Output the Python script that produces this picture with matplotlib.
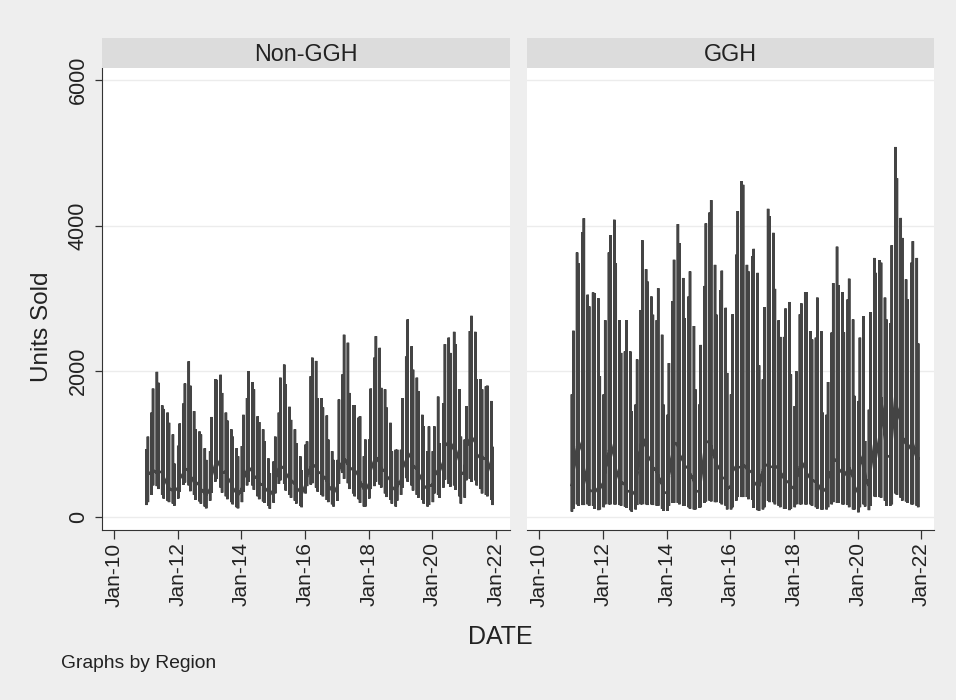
import matplotlib
matplotlib.use('Agg')
import matplotlib.pyplot as plt
import matplotlib.dates as mdates
from matplotlib.transforms import ScaledTranslation
import numpy as np
import pandas as pd

plt.rcParams['font.family'] = ['Liberation Sans', 'DejaVu Sans']

# Monthly values Jan-2011 .. Dec-2021
months = pd.date_range('2011-01-01', '2021-12-01', freq='MS')

nongh_high = [930, 1100, 1430, 1760, 1990, 1840, 1530, 1480, 1430, 1290, 1130, 730,
              975, 1280, 1555, 1830, 2135, 1800, 1450, 1200, 1170, 1130, 940, 780,
              900, 1370, 1890, 1880, 1950, 1700, 1430, 1320, 1200, 1100, 940, 830,
              970, 1400, 1630, 2000, 1850, 1750, 1380, 1300, 1200, 1035, 800, 600,
              760, 1100, 1430, 1910, 2090, 1820, 1510, 1330, 1200, 1010, 830, 640,
              990, 1035, 1930, 2185, 2140, 1630, 1630, 1500, 1390, 1060, 900, 780,
              780, 1610, 1955, 2500, 2390, 1700, 1530, 1530, 1360, 1380, 830, 1060,
              1060, 1760, 2185, 2480, 2320, 1770, 1750, 1500, 1290, 900, 920, 920,
              920, 1630, 2200, 2710, 2340, 2020, 1910, 1725, 1400, 1240, 900, 1240,
              900, 1240, 1650, 1010, 1560, 2370, 2460, 2250, 2540, 2370, 1750, 1100,
              1060, 1520, 2550, 2760, 2540, 1890, 1890, 1750, 1790, 1800, 1590, 960]
nongh_low = [160, 200, 300, 430, 420, 380, 300, 250, 220, 200, 180, 150,
             250, 340, 440, 470, 430, 350, 300, 230, 210, 180, 140, 115,
             220, 330, 480, 520, 400, 330, 280, 240, 200, 170, 130, 115,
             200, 340, 430, 480, 430, 370, 280, 240, 210, 190, 150, 110,
             190, 320, 450, 500, 450, 360, 300, 260, 220, 180, 150, 130,
             320, 420, 440, 460, 400, 345, 300, 280, 230, 200, 170, 140,
             220, 450, 600, 520, 460, 380, 320, 280, 240, 190, 140, 140,
             250, 380, 420, 480, 440, 400, 320, 270, 230, 180, 140, 220,
             300, 400, 530, 480, 430, 360, 300, 260, 230, 180, 140, 160,
             200, 320, 300, 260, 400, 510, 450, 410, 430, 370, 280, 180,
             260, 500, 520, 480, 500, 430, 380, 320, 300, 280, 230, 160]
nongh_mid = [560, 580, 620, 640, 600, 620, 610, 540, 430, 390, 360, 350,
             400, 520, 600, 660, 640, 560, 480, 480, 430, 380, 320, 300,
             380, 560, 720, 780, 680, 600, 620, 540, 460, 400, 320, 300,
             380, 520, 640, 680, 620, 560, 520, 460, 430, 400, 340, 300,
             370, 520, 660, 700, 660, 600, 520, 500, 450, 400, 340, 310,
             440, 560, 680, 720, 680, 620, 590, 560, 500, 430, 360, 320,
             420, 640, 760, 800, 720, 680, 640, 640, 560, 480, 380, 360,
             460, 640, 780, 820, 740, 660, 620, 560, 500, 410, 360, 420,
             500, 660, 780, 880, 800, 700, 660, 600, 500, 430, 380, 420,
             440, 560, 640, 620, 760, 980, 1020, 900, 1010, 930, 760, 580,
             620, 960, 1060, 1100, 1020, 860, 800, 810, 790, 780, 620, 480]

ggh_high = [1680, 2555, 3630, 3480, 3910, 4100, 3050, 2890, 3080, 3070, 3000, 1930,
            1680, 2700, 3630, 3870, 4080, 3480, 2700, 2250, 2270, 2700, 2270, 1450,
            1540, 2160, 2840, 3800, 3400, 3230, 3025, 2775, 2700, 3140, 2500, 1540,
            1400, 2110, 2960, 3530, 4020, 3760, 3280, 2730, 3025, 3370, 2620, 1750,
            1540, 2360, 3170, 4030, 4180, 4350, 3460, 2775, 3110, 3380, 2870, 1975,
            1680, 2780, 3600, 4200, 4610, 4560, 3460, 3370, 3580, 3680, 3350, 2080,
            1885, 2880, 4230, 4130, 3900, 3130, 2700, 2470, 2470, 2860, 2950, 1955,
            1520, 2000, 2780, 2930, 3085, 3085, 2550, 2435, 2460, 3010, 2550, 1430,
            1400, 1850, 2530, 3210, 3710, 3180, 3085, 2535, 2985, 3270, 2710, 1660,
            1590, 2460, 2755, 1040, 1470, 2810, 3555, 3350, 3525, 3490, 3010, 2710,
            2660, 3730, 5080, 4650, 4105, 3830, 3260, 2985, 3490, 3785, 3555, 2380]
ggh_low = [70, 110, 170, 150, 160, 160, 170, 150, 150, 110, 90, 100,
           130, 170, 170, 170, 170, 170, 160, 150, 140, 120, 90, 70,
           100, 160, 170, 170, 170, 160, 170, 160, 150, 150, 110, 80,
           80, 150, 190, 190, 190, 170, 150, 150, 130, 110, 100, 100,
           120, 130, 190, 210, 220, 210, 200, 200, 190, 170, 150, 100,
           100, 130, 220, 270, 270, 270, 270, 240, 230, 120, 90, 80,
           100, 130, 220, 200, 200, 170, 150, 130, 110, 110, 90, 110,
           130, 170, 170, 170, 170, 170, 170, 150, 130, 110, 100, 100,
           100, 130, 170, 200, 190, 190, 170, 170, 160, 130, 100, 100,
           60, 130, 170, 140, 90, 150, 280, 270, 270, 260, 220, 150,
           150, 170, 320, 300, 260, 220, 210, 190, 170, 170, 150, 130]
ggh_mid = [420, 620, 960, 1040, 900, 660, 420, 360, 350, 330, 400, 380,
           480, 640, 900, 1020, 820, 660, 500, 480, 440, 360, 340, 300,
           360, 620, 960, 1100, 960, 840, 760, 680, 620, 560, 440, 320,
           340, 560, 880, 1020, 980, 860, 760, 700, 660, 590, 500, 360,
           340, 480, 900, 1020, 1040, 960, 800, 720, 640, 540, 520, 380,
           420, 620, 700, 680, 680, 720, 660, 600, 640, 480, 420, 420,
           640, 720, 700, 690, 680, 700, 660, 620, 520, 500, 460, 420,
           380, 520, 680, 760, 660, 600, 520, 500, 480, 460, 360, 340,
           400, 540, 640, 800, 760, 660, 600, 560, 640, 680, 540, 420,
           320, 700, 860, 540, 420, 620, 1000, 800, 1120, 1640, 1100, 840,
           820, 1060, 1680, 1500, 1300, 1100, 1000, 920, 1000, 1000, 800, 800]

panels = ['Non-GGH', 'GGH']
highs = [nongh_high, ggh_high]
lows = [nongh_low, ggh_low]
mids = [nongh_mid, ggh_mid]
tick_years = [2010, 2012, 2014, 2016, 2018, 2020, 2022]
y_ticks = [0, 2000, 4000, 6000]

BG = '#eeeeee'
STRIP = '#dcdcdc'
GRID = '#ececec'
LINE = '#444444'
TXT = '#222222'
W, H = 956, 700

fig = plt.figure(figsize=(W/100, H/100), dpi=100, facecolor=BG)
x0 = mdates.date2num(pd.Timestamp('2010-01-01'))
x1 = mdates.date2num(pd.Timestamp('2022-01-01'))
px = (x1 - x0) / 382.0

for i, name in enumerate(panels):
    left = [102, 527][i]
    width = [408, 407][i]
    tick0 = [114, 539.5][i]
    ax = fig.add_axes([left/W, 1-530/H, width/W, 462/H], facecolor='white')
    # bars come in pairs of months, so nudge them together
    dates = mdates.date2num(months)
    xs, ys = [], []
    for k, (d, lo, hi, mid) in enumerate(zip(dates, lows[i], highs[i], mids[i])):
        d = d + 7 if k % 2 == 0 else d - 7
        xs += [d, d, d, d]
        ys += [mid, lo, hi, mid]
    ax.plot(xs, ys, color=LINE, lw=1.8, solid_joinstyle='miter')

    ax.set_xlim(x0 - (tick0-left)*px, x0 + (left+width-tick0)*px)
    ax.set_ylim(-183, 6165)
    ax.yaxis.grid(True, color=GRID, lw=1)
    ax.set_axisbelow(True)
    ax.set_xticks([mdates.date2num(pd.Timestamp(f'{y}-01-01')) for y in tick_years])
    ax.set_xticklabels([f'Jan-{str(y)[2:]}' for y in tick_years], rotation=90,
                       fontsize=15, color=TXT)
    # labels sit a little right of their ticks
    for lab in ax.get_xticklabels():
        lab.set_transform(lab.get_transform() + ScaledTranslation(2/100, 0, fig.dpi_scale_trans))
    ax.set_yticks(y_ticks)
    ax.tick_params(axis='x', length=6.5, width=0.9, color='#333333', pad=2.5)
    for s in ['top', 'right']:
        ax.spines[s].set_visible(False)
    ax.spines['bottom'].set_color('#333333')
    if i == 0:
        ax.set_yticklabels(y_ticks, rotation=90, va='center', fontsize=15.5, color=TXT)
        ax.tick_params(axis='y', length=5, width=0.9, color='#333333', pad=4.5)
        ax.spines['left'].set_color('#333333')
    else:
        ax.spines['left'].set_visible(False)
        ax.tick_params(axis='y', length=0, labelleft=False)

    strip = fig.add_axes([left/W, 1-68/H, width/W, 30/H], facecolor=STRIP)
    strip.set_xticks([])
    strip.set_yticks([])
    for s in strip.spines.values():
        s.set_visible(False)
    strip.text(0.5, 0.45, name, ha='center', va='center', fontsize=16.8,
               color=TXT, transform=strip.transAxes)

fig.text(42/W, 1-327/H, 'Units Sold', rotation=90, ha='center', va='center',
         fontsize=17.5, color=TXT)
fig.text(500/W, 1-637/H, 'DATE', ha='center', va='center', fontsize=18, color=TXT)
fig.text(61/W, 1-663/H, 'Graphs by Region', ha='left', va='center', fontsize=13.9,
         color=TXT)

fig.savefig('out.png', dpi=100, facecolor=BG)
